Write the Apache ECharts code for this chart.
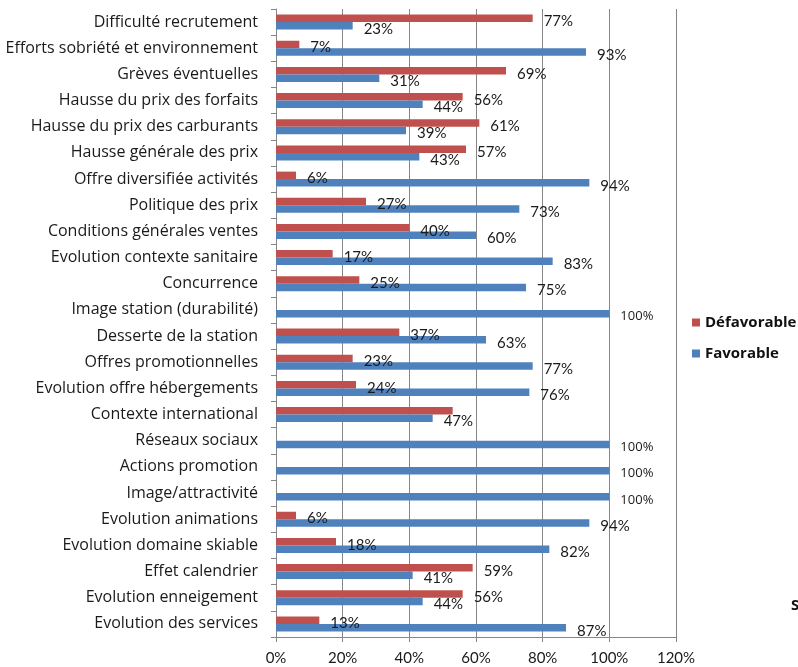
<!DOCTYPE html>
<html>
<head>
<meta charset="utf-8">
<script src="https://cdn.jsdelivr.net/npm/echarts@6/dist/echarts.min.js"></script>
<style>html,body{margin:0;padding:0;background:#fff}#c{width:798px;height:667px}</style>
</head>
<body>
<div id="c"></div>
<script>
const categories = [
  "Difficulté recrutement",
  "Efforts sobriété et environnement",
  "Grèves éventuelles",
  "Hausse du prix des forfaits",
  "Hausse du prix des carburants",
  "Hausse générale des prix",
  "Offre diversifiée activités",
  "Politique des prix",
  "Conditions générales ventes",
  "Evolution contexte sanitaire",
  "Concurrence",
  "Image station (durabilité)",
  "Desserte de la station",
  "Offres promotionnelles",
  "Evolution offre hébergements",
  "Contexte international",
  "Réseaux sociaux",
  "Actions promotion",
  "Image/attractivité",
  "Evolution animations",
  "Evolution domaine skiable",
  "Effet calendrier",
  "Evolution enneigement",
  "Evolution des services"
];
const defavorable = [77, 7, 69, 56, 61, 57, 6, 27, 40, 17, 25, 0, 37, 23, 24, 53, 0, 0, 0, 6, 18, 59, 56, 13];
const favorable   = [23, 93, 31, 44, 39, 43, 94, 73, 60, 83, 75, 100, 63, 77, 76, 47, 100, 100, 100, 94, 82, 41, 44, 87];
const hiddenDefavorableLabels = ["Contexte international"];
const xTicks = { min: 0, max: 120, interval: 20 };

const FONT = 'Lato, "Open Sans", sans-serif';
const CAT_FONT = '"Open Sans", Lato, sans-serif';
const labelFormatter = (p) => {
  if (!p.value) return '';
  if (p.seriesName === 'Défavorable' && hiddenDefavorableLabels.includes(p.name)) return '';
  if (p.value >= 100) return '{s|' + p.value + '%}';
  return p.value + '%';
};
const labelCfg = {
  show: true, position: 'right', distance: 5, offset: [6, 3],
  color: '#1a1a1a', fontFamily: FONT, fontSize: 15,
  formatter: labelFormatter,
  rich: { s: { fontSize: 13, fontFamily: CAT_FONT, color: '#1a1a1a' } }
};

const chart = echarts.init(document.getElementById('c'), null, { renderer: 'canvas' });
chart.setOption({
  animation: false,
  backgroundColor: '#fff',
  grid: { left: 276, right: 122, top: 9, bottom: 30, containLabel: false },
  legend: {
    orient: 'vertical', left: 687, top: 310,
    itemWidth: 8, itemHeight: 8, itemGap: 16, icon: 'rect',
    textStyle: { fontFamily: CAT_FONT, fontSize: 15, fontWeight: 'bold', color: '#111' },
    data: ['Défavorable', 'Favorable']
  },
  xAxis: {
    type: 'value', min: xTicks.min, max: xTicks.max, interval: xTicks.interval,
    axisLine: { show: true, lineStyle: { color: '#868686' } },
    axisTick: { show: true, length: 5, lineStyle: { color: '#868686' } },
    axisLabel: { formatter: '{value}%', fontFamily: FONT, fontSize: 15, color: '#1a1a1a', margin: 14 },
    splitLine: { show: true, lineStyle: { color: '#868686', width: 1 } }
  },
  yAxis: {
    type: 'category', data: categories, inverse: true,
    axisLine: { show: true, lineStyle: { color: '#868686' } },
    axisTick: { show: true, length: 5, alignWithLabel: false, lineStyle: { color: '#868686' } },
    axisLabel: { fontFamily: CAT_FONT, fontSize: 16, color: '#1a1a1a', margin: 18 },
    splitLine: { show: false }
  },
  series: [
    { name: 'Défavorable', type: 'bar', data: defavorable, barWidth: 7.5, barGap: '0%',
      itemStyle: { color: '#C0504D' }, label: labelCfg },
    { name: 'Favorable', type: 'bar', data: favorable, barWidth: 7.5, barGap: '0%',
      itemStyle: { color: '#4F81BD' }, label: labelCfg }
  ],
  graphic: [
    { type: 'text', left: 791, top: 598, style: { text: 'S', fontFamily: CAT_FONT, fontSize: 15, fontWeight: 'bold', fill: '#111' } }
  ]
});
</script>
</body>
</html>
